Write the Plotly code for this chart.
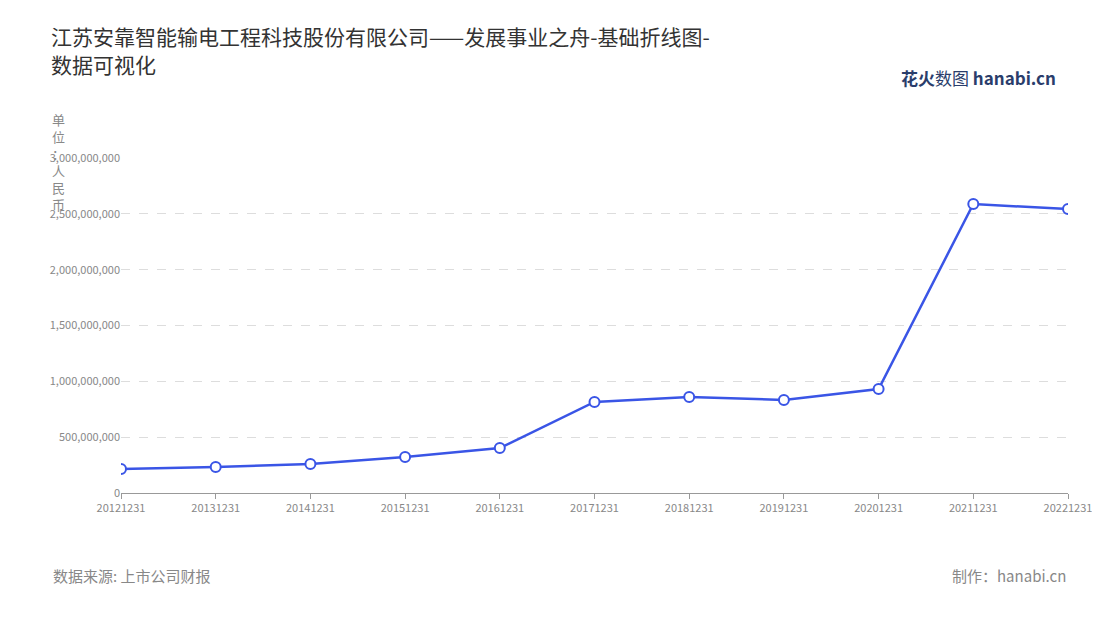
import plotly.graph_objects as go

categories = ["20121231","20131231","20141231","20151231","20161231","20171231",
              "20181231","20191231","20201231","20211231","20221231"]
values = [215e6, 233e6, 260e6, 322e6, 403e6, 815e6, 860e6, 833e6, 931e6, 2588e6, 2543e6]
tickvals = [0, 500e6, 1000e6, 1500e6, 2000e6, 2500e6, 3000e6]
ticktext = ["0","500,000,000","1,000,000,000","1,500,000,000","2,000,000,000","2,500,000,000","3,000,000,000"]

font = "Noto Sans CJK SC"
fig = go.Figure(go.Scatter(
    x=categories, y=values, mode="lines+markers",
    line=dict(color="#3a55e6", width=2.5),
    marker=dict(size=10, color="white", line=dict(color="#3a55e6", width=2)),
))
fig.update_layout(
    width=1100, height=620, plot_bgcolor="white", paper_bgcolor="white",
    margin=dict(l=113, r=40, t=150, b=135, autoexpand=False),
    font=dict(family=font, color="#999"),
    showlegend=False,
    title=dict(text="江苏安靠智能输电工程科技股份有限公司——发展事业之舟-基础折线图-<br>数据可视化",
               x=43/1100, xanchor="left", xref="container", y=0.94, yanchor="top",
               font=dict(size=21, color="#333", family=font)),
)
fig.update_xaxes(type="category", showline=True, linecolor="#999", ticks="outside",
                 tickcolor="#999", ticklen=5, tickfont=dict(size=11, color="#888"),
                 showgrid=False, range=[0, 10])
fig.update_yaxes(range=[0, 3000e6], tickvals=tickvals, ticktext=ticktext,
                 tickfont=dict(size=11, color="#888"), showgrid=True,
                 gridcolor="#ddd", griddash="dash", zeroline=False, ticks="")
fig.add_annotation(text="单<br>位<br>：<br>人<br>民<br>币", xref="paper", yref="paper",
                   x=-0.066, y=1.15, xanchor="center", yanchor="top", showarrow=False,
                   font=dict(size=13, color="#888"))
fig.add_annotation(text="数据来源: 上市公司财报", xref="paper", yref="paper",
                   x=-0.074, y=-0.245, xanchor="left", yanchor="middle", showarrow=False,
                   font=dict(size=15, color="#888"))
fig.add_annotation(text="制作：hanabi.cn", xref="paper", yref="paper",
                   x=1.0, y=-0.245, xanchor="right", yanchor="middle", showarrow=False,
                   font=dict(size=15, color="#888"))
fig.add_annotation(text="<b>花火</b>数图 <b>hanabi.cn</b>", xref="paper", yref="paper",
                   x=0.905, y=1.24, xanchor="center", yanchor="middle", showarrow=False,
                   font=dict(size=17, color="#2a3d6b"))
fig.write_html("out.html")
